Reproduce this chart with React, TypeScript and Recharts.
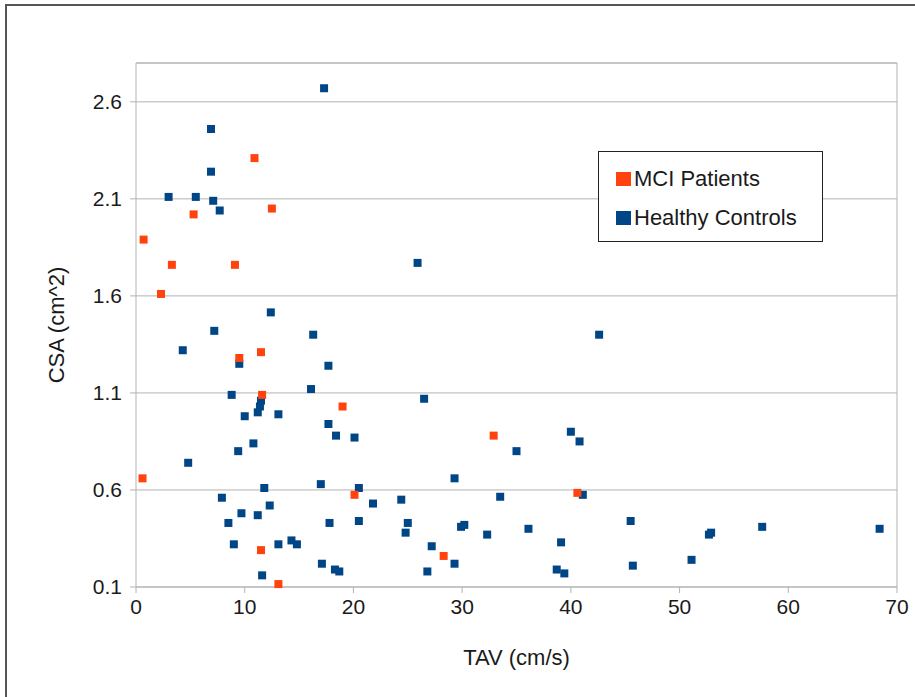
import React from 'react';
import {
  ScatterChart,
  Scatter,
  XAxis,
  YAxis,
  ZAxis,
  CartesianGrid,
  Legend,
  ReferenceLine,
  Label,
} from 'recharts';

// MCI patients
const mciTav = [0.7, 3.3, 2.3, 5.3, 10.9, 12.5, 9.1, 9.5, 11.5, 11.6, 19.0, 0.6, 20.1, 11.5, 13.1, 28.3, 32.9, 40.6];
const mciCsa = [1.89, 1.76, 1.61, 2.02, 2.31, 2.05, 1.76, 1.28, 1.31, 1.09, 1.03, 0.66, 0.575, 0.29, 0.115, 0.26, 0.88, 0.585];

// healthy controls
const hcTav = [
  17.3, 6.9, 6.9, 3.0, 5.5, 7.1, 7.7, 12.4, 7.2, 16.3, 4.3, 9.5, 17.7, 16.1, 8.8, 11.5, 11.4, 11.2, 10.0, 13.1,
  26.5, 25.9, 42.6, 17.7, 18.4, 20.1, 10.8, 9.4, 4.8, 35.0, 40.0, 40.8, 29.3, 17.0, 11.8, 20.5, 7.9, 12.3, 21.8, 24.4,
  33.5, 41.1, 9.7, 11.2, 8.5, 17.8, 20.5, 25.0, 24.8, 29.9, 30.2, 32.3, 36.1, 45.5, 52.7, 52.9, 57.6, 68.4, 9.0, 13.1,
  14.3, 14.8, 27.2, 39.1, 17.1, 18.3, 18.7, 11.6, 29.3, 26.8, 38.7, 39.4, 45.7, 51.1,
];
const hcCsa = [
  2.67, 2.46, 2.24, 2.11, 2.11, 2.09, 2.04, 1.515, 1.42, 1.4, 1.32, 1.25, 1.24, 1.12, 1.09, 1.06, 1.03, 1.0, 0.98, 0.99,
  1.07, 1.77, 1.4, 0.94, 0.88, 0.87, 0.84, 0.8, 0.74, 0.8, 0.9, 0.85, 0.66, 0.63, 0.61, 0.61, 0.56, 0.52, 0.53, 0.55,
  0.565, 0.575, 0.48, 0.47, 0.43, 0.43, 0.44, 0.43, 0.38, 0.41, 0.42, 0.37, 0.4, 0.44, 0.37, 0.38, 0.41, 0.4, 0.32, 0.32,
  0.34, 0.32, 0.31, 0.33, 0.22, 0.19, 0.18, 0.16, 0.22, 0.18, 0.19, 0.17, 0.21, 0.24,
];

const xTicks = [0, 10, 20, 30, 40, 50, 60, 70];
const yTicks = [0.1, 0.6, 1.1, 1.6, 2.1, 2.6];

const mciData = mciTav.map((x, i) => ({ tav: x, csa: mciCsa[i] }));
const hcData = hcTav.map((x, i) => ({ tav: x, csa: hcCsa[i] }));

const FONT = '"Liberation Sans", Arial, sans-serif';
const MCI_COLOR = '#ff420e';
const HC_COLOR = '#004586';

const legendItems = [
  { name: 'MCI Patients', color: MCI_COLOR },
  { name: 'Healthy Controls', color: HC_COLOR },
];

const LegendBox = () => (
  <div
    style={{
      border: '1px solid #222',
      background: '#fff',
      width: 225,
      height: 91,
      boxSizing: 'border-box',
      padding: '7px 0 0 17px',
      fontFamily: FONT,
      fontSize: 22,
      color: '#1a1a1a',
    }}
  >
    {legendItems.map((it) => (
      <div key={it.name} style={{ display: 'flex', alignItems: 'center', height: 39 }}>
        <span style={{ width: 15, height: 14, background: it.color, marginRight: 3 }} />
        {it.name}
      </div>
    ))}
  </div>
);

export default function App() {
  const tickStyle = { fontSize: 21, fill: '#1a1a1a', fontFamily: FONT };
  const titleStyle = { fontSize: 22, fill: '#1a1a1a', fontFamily: FONT, textAnchor: 'middle' as const };
  return (
    <div style={{ position: 'absolute', left: 0, top: 0, width: 915, height: 697, background: '#fff' }}>
      <div
        style={{
          position: 'absolute',
          left: 5,
          top: 4,
          right: 0,
          bottom: 0,
          borderTop: '2px solid #555',
          borderLeft: '2px solid #555',
        }}
      />
      <ScatterChart width={915} height={697} margin={{ top: 63, right: 18, left: 0, bottom: 0 }}>
        <CartesianGrid vertical={false} stroke="#b3b3b3" />
        <XAxis
          type="number"
          dataKey="tav"
          domain={[0, 70]}
          ticks={xTicks}
          height={110}
          stroke="#b3b3b3"
          tickSize={6}
          tickMargin={6}
          tick={tickStyle}
        >
          <Label value="TAV (cm/s)" position="insideTop" offset={62} style={titleStyle} />
        </XAxis>
        <YAxis
          type="number"
          dataKey="csa"
          domain={[0.1, 2.8]}
          ticks={yTicks}
          width={136}
          stroke="#b3b3b3"
          tickSize={6}
          tickMargin={8}
          tick={tickStyle}
        >
          <Label value="CSA (cm^2)" angle={-90} position="insideLeft" offset={56} style={titleStyle} />
        </YAxis>
        <ZAxis range={[110, 110]} />
        <ReferenceLine y={2.8} stroke="#b3b3b3" />
        <ReferenceLine x={70} stroke="#b3b3b3" />
        <Legend
          layout="vertical"
          align="center"
          verticalAlign="middle"
          content={<LegendBox />}
          wrapperStyle={{ position: 'absolute', left: 598, top: 151, width: 225, height: 91 }}
        />
        <Scatter name="Healthy Controls" data={hcData} fill={HC_COLOR} shape="square" isAnimationActive={false} legendType="square" />
        <Scatter name="MCI Patients" data={mciData} fill={MCI_COLOR} shape="square" isAnimationActive={false} legendType="square" />
      </ScatterChart>
    </div>
  );
}
